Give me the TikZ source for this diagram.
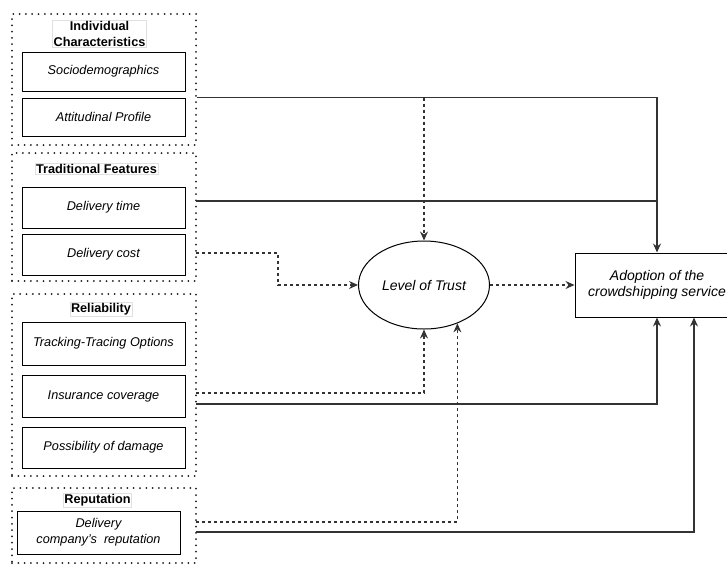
\documentclass[tikz,border=0pt]{standalone}
\usepackage{fontspec}
\setmainfont{Liberation Sans}
\usetikzlibrary{arrows.meta,shapes.geometric}

\begin{document}
\begin{tikzpicture}[x=1pt,y=-1pt,
  group/.style={draw=black!90, line width=2pt, line cap=round,
    dash pattern=on 0pt off 6.3pt, minimum width=184, inner sep=0},
  item/.style={draw=black, line width=1pt, minimum width=163, inner sep=0,
    align=center, font=\fontsize{12.7}{16}\selectfont\itshape},
  heading/.style={draw=black!12, fill=white, line width=0.6pt, inner sep=1pt,
    align=center, font=\fontsize{12.7}{16}\selectfont\bfseries},
  bigitem/.style={draw=black, line width=1pt, inner sep=0, align=center,
    font=\fontsize{14}{16}\selectfont\itshape},
  conn/.style={line width=1.1pt, draw=black!80},
  dconn/.style={conn, dash pattern=on 3pt off 3pt},
  tip/.style={-{Stealth[length=9pt,width=8pt,inset=3pt]}},
]
\useasboundingbox (0,0) rectangle (727,565);

% dotted groups of factors
\node[group, minimum height=131] (g1) at (104,79.5) {};
\node[group, minimum height=128] (g2) at (104,217) {};
\node[group, minimum height=182] (g3) at (104,385) {};
\node[group, minimum height=75]  (g4) at (104,525.5) {};

% group headings
\node[heading] (h1) at (99.5,34) {Individual\\Characteristics};
\node[heading] (h2) at (96.5,169) {Traditional Features};
\node[heading] (h3) at (101,309) {Reliability};
\node[heading] (h4) at (97.5,500) {Reputation};

% factor boxes
\node[item, minimum height=39] (soc) at (103.5,71.5) {Sociodemographics};
\node[item, minimum height=38] (att) at (103.5,117) {Attitudinal Profile};
\node[item, minimum height=41] (dtime) at (103.5,207.5) {Delivery time};
\node[item, minimum height=41] (dcost) at (103.5,254.5) {Delivery cost};
\node[item, minimum height=43] (track) at (103.5,343.5) {Tracking-Tracing Options};
\node[item, minimum height=42] (ins) at (103.5,396) {Insurance coverage};
\node[item, minimum height=41] (dmg) at (103.5,447.5) {Possibility of damage};
\node[item, minimum height=43] (rep) at (98.5,532.5) {Delivery\\company's\ \ reputation};

% outcome nodes
\node[bigitem, ellipse, minimum width=131, minimum height=88] (trust) at (424,285) {Level of Trust};
\node[bigitem, minimum width=164, minimum height=64] (adopt) at (657,285) {Adoption of the\\crowdshipping service};

% start points on the group borders
\coordinate (a1) at (g1.east |- att.north);
\coordinate (t1) at (196,201);
\coordinate (c1) at (196,253);
\coordinate (cbend) at (278,253);
\coordinate (i1) at (196,393);
\coordinate (i2) at (196,404);
\coordinate (r1) at (196,522);
\coordinate (r2) at (196,532);

% direct effects on adoption
\draw[conn, tip] (a1) -| (adopt.north);
\draw[conn] (t1) -- (adopt.north |- t1);
\draw[conn, tip] (i2) -| (adopt.south);
\draw[conn, tip] (r2) -| ([xshift=37pt]adopt.south);

% effects through the level of trust
\draw[dconn, tip] (trust.north |- a1) -- (trust.north);
\draw[dconn, tip] (c1) -- (cbend) |- (trust.west);
\draw[dconn, tip] (i1) -| (trust.south);
\draw[dconn, tip] (r1) -| (trust.-49);
\draw[dconn, tip] (trust.east) -- (adopt.west);
\end{tikzpicture}
\end{document}
